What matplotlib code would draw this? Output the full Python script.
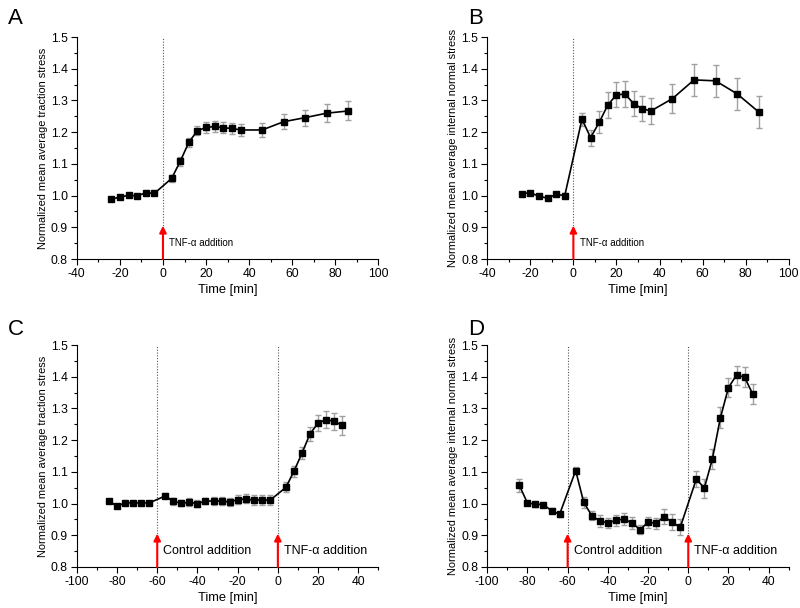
import matplotlib
matplotlib.use("Agg")
import matplotlib.pyplot as plt
import numpy as np
from matplotlib.ticker import MultipleLocator

plt.rcParams['font.family'] = ['Liberation Sans', 'DejaVu Sans']
plt.rcParams['axes.unicode_minus'] = False

# Panel A: traction stress, TNF-a only
time_a = [-24, -20, -16, -12, -8, -4, 4, 8, 12, 16, 20, 24, 28, 32, 36, 46, 56, 66, 76, 86]
val_a = [0.989, 0.995, 1.001, 0.999, 1.009, 1.007, 1.054, 1.108, 1.168, 1.205, 1.215,
         1.218, 1.214, 1.212, 1.207, 1.207, 1.233, 1.246, 1.260, 1.267]
err_a = [0.005, 0.004, 0.004, 0.004, 0.005, 0.005, 0.010, 0.015, 0.015, 0.015, 0.018,
         0.018, 0.018, 0.018, 0.020, 0.022, 0.024, 0.025, 0.028, 0.030]

# Panel B: internal normal stress, TNF-a only
time_b = time_a
val_b = [1.006, 1.009, 0.998, 0.992, 1.004, 1.000, 1.241, 1.183, 1.231, 1.286, 1.318,
         1.320, 1.290, 1.274, 1.267, 1.306, 1.365, 1.362, 1.321, 1.264]
err_b = [0.005, 0.005, 0.005, 0.005, 0.005, 0.008, 0.020, 0.025, 0.035, 0.040, 0.040,
         0.040, 0.040, 0.040, 0.040, 0.045, 0.050, 0.050, 0.050, 0.050]

# Panels C and D: control addition at -60, TNF-a at 0
time_cd = [-84, -80, -76, -72, -68, -64, -56, -52, -48, -44, -40, -36, -32, -28, -24,
           -20, -16, -12, -8, -4, 4, 8, 12, 16, 20, 24, 28, 32]
val_c = [1.009, 0.991, 1.003, 1.002, 1.002, 1.002, 1.024, 1.007, 1.001, 1.004, 1.000,
         1.008, 1.008, 1.008, 1.005, 1.012, 1.015, 1.010, 1.012, 1.010, 1.051, 1.102,
         1.159, 1.220, 1.254, 1.265, 1.259, 1.247]
err_c = [0.005, 0.005, 0.005, 0.005, 0.005, 0.005, 0.008, 0.010, 0.010, 0.012, 0.010,
         0.010, 0.012, 0.012, 0.012, 0.014, 0.014, 0.016, 0.016, 0.016, 0.016, 0.018,
         0.020, 0.022, 0.025, 0.027, 0.028, 0.030]
val_d = [1.057, 1.002, 0.998, 0.997, 0.977, 0.966, 1.104, 1.004, 0.962, 0.945, 0.939,
         0.947, 0.951, 0.939, 0.918, 0.941, 0.938, 0.959, 0.941, 0.925, 1.077, 1.049,
         1.141, 1.271, 1.366, 1.405, 1.399, 1.346]
err_d = [0.022, 0.005, 0.008, 0.008, 0.008, 0.008, 0.012, 0.018, 0.015, 0.018, 0.016,
         0.018, 0.018, 0.020, 0.015, 0.018, 0.018, 0.025, 0.025, 0.025, 0.025, 0.030,
         0.032, 0.032, 0.030, 0.030, 0.032, 0.032]

ylab_traction = 'Normalized mean average traction stress'
ylab_internal = 'Normalized mean average internal normal stress'

fig = plt.figure(figsize=(8.0, 6.08), dpi=100)
w, h = 0.377, 0.365
axA = fig.add_axes([0.096, 0.574, w, h])
axB = fig.add_axes([0.609, 0.574, w, h])
axC = fig.add_axes([0.096, 0.0675, w, h])
axD = fig.add_axes([0.609, 0.0675, w, h])


def draw_panel(ax, t, v, e, ylabel, xlim, markers, note_size):
    ax.errorbar(t, v, yerr=e, fmt='none', ecolor='#a0a0a0', elinewidth=1.0,
                capsize=2.5, capthick=1.0, zorder=2)
    ax.plot(t, v, color='k', lw=1.2, marker='s', ms=4, zorder=3)
    ax.set_xlim(*xlim)
    ax.set_ylim(0.8, 1.5)
    ax.xaxis.set_minor_locator(MultipleLocator(10))
    ax.yaxis.set_minor_locator(MultipleLocator(0.05))
    yt = np.arange(0.8, 1.51, 0.1)
    ax.set_yticks(yt)
    ax.set_yticklabels(['%.1f' % y for y in yt])
    last = 40 if xlim[1] == 50 else xlim[1]
    ax.set_xticks(np.arange(xlim[0], last + 1, 20))
    for s in ('top', 'right'):
        ax.spines[s].set_visible(False)
    ax.tick_params(which='both', direction='out', labelsize=8.8, width=0.8, pad=2.5)
    ax.tick_params(which='major', length=4)
    ax.tick_params(which='minor', length=2.5)
    ax.set_xlabel('Time [min]', fontsize=9.3, labelpad=3)
    ax.set_ylabel(ylabel, fontsize=7.9, labelpad=2)
    for xm, label in markers:
        ax.axvline(xm, color='#555555', lw=0.8, ls=(0, (1, 1.5)), zorder=1)
        ax.annotate('', xy=(xm, 0.905), xytext=(xm, 0.8),
                    arrowprops=dict(arrowstyle='-|>', color='red', lw=1.5,
                                    mutation_scale=10, shrinkA=0, shrinkB=0),
                    annotation_clip=False, zorder=4)
        ax.text(xm + 3, 0.85, label, fontsize=note_size, va='center', ha='left')


draw_panel(axA, time_a, val_a, err_a, ylab_traction, (-40, 100),
           [(0, 'TNF-α addition')], 7)
draw_panel(axB, time_b, val_b, err_b, ylab_internal, (-40, 100),
           [(0, 'TNF-α addition')], 7)
draw_panel(axC, time_cd, val_c, err_c, ylab_traction, (-100, 50),
           [(-60, 'Control addition'), (0, 'TNF-α addition')], 9)
draw_panel(axD, time_cd, val_d, err_d, ylab_internal, (-100, 50),
           [(-60, 'Control addition'), (0, 'TNF-α addition')], 9)

for letter, x, y in [('A', 0.01, 0.97), ('B', 0.585, 0.97),
                     ('C', 0.01, 0.458), ('D', 0.585, 0.458)]:
    fig.text(x, y, letter, fontsize=16, va='center', ha='left')

fig.savefig('out.png', dpi=100)
